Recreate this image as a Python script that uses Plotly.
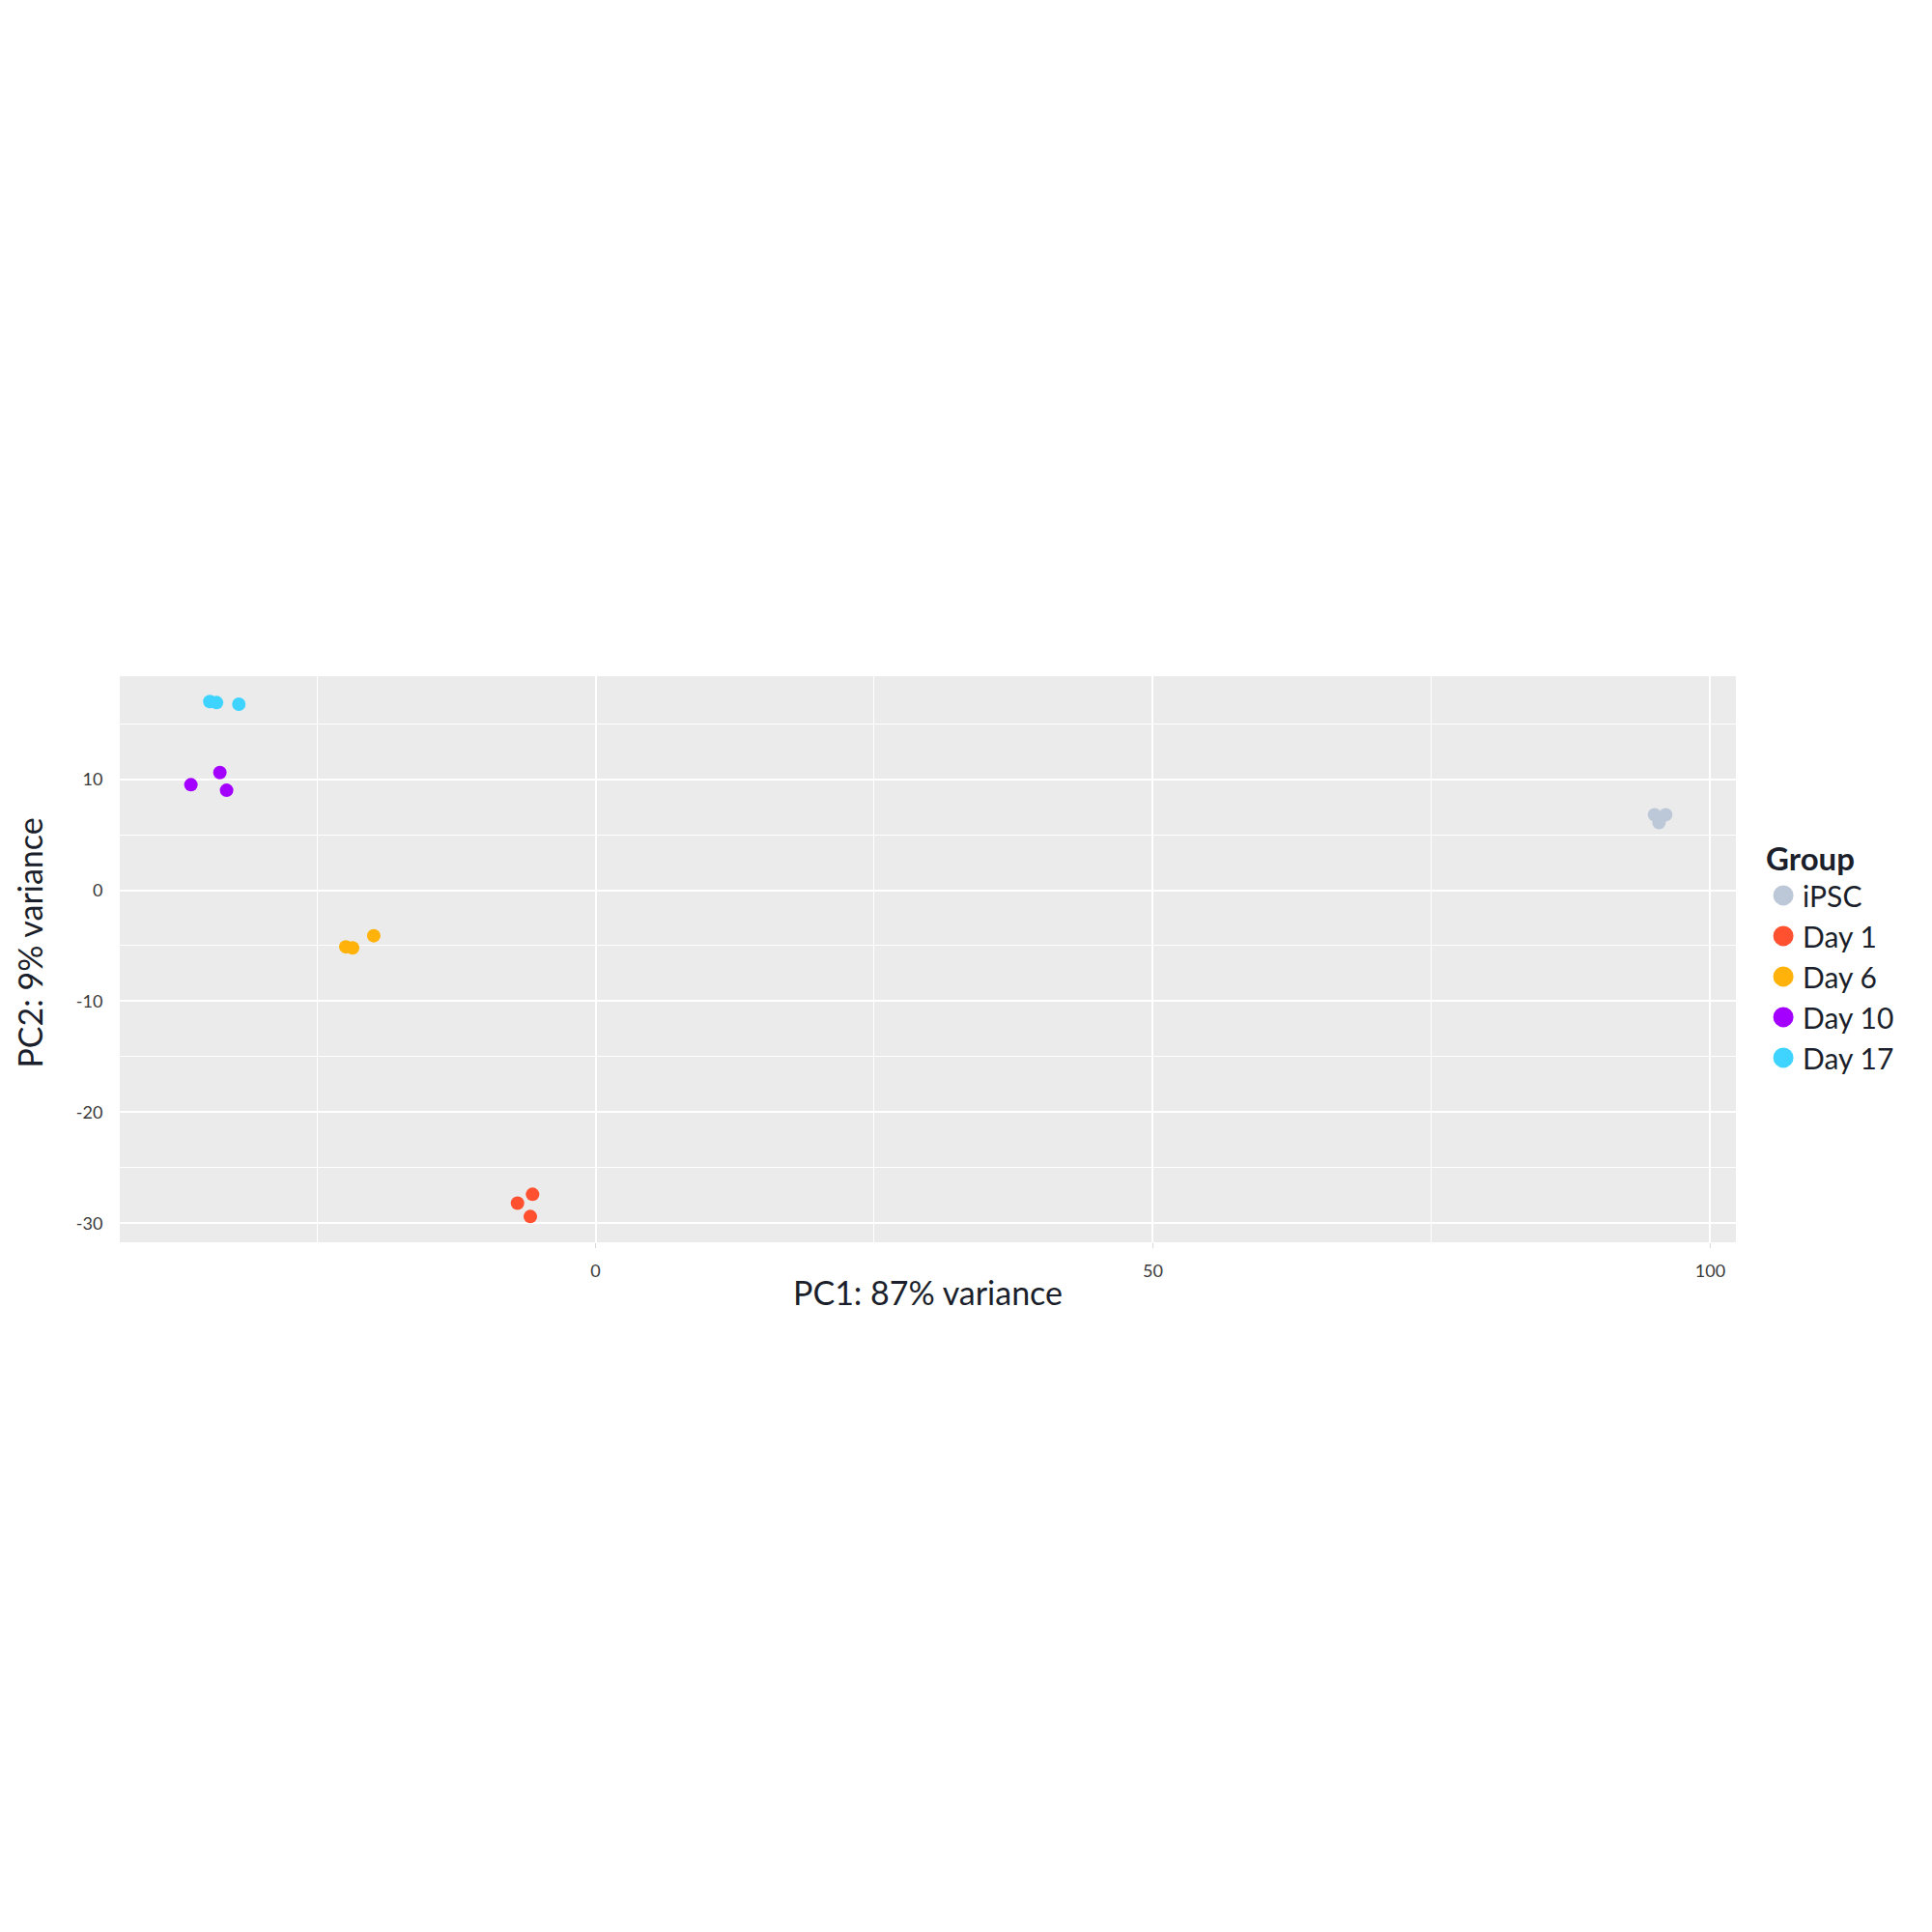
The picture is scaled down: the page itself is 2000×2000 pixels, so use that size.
import plotly.graph_objects as go

groups = ["iPSC", "Day 1", "Day 6", "Day 10", "Day 17"]
colors = ["#BCC7D7", "#FF512F", "#FFB20A", "#A300FF", "#3ED4FF"]

pc1_ipsc = [95.0, 96.0, 95.4]
pc2_ipsc = [6.8, 6.8, 6.1]
pc1_day1 = [-7.0, -5.65, -5.85]
pc2_day1 = [-28.2, -27.4, -29.4]
pc1_day6 = [-22.4, -21.8, -19.9]
pc2_day6 = [-5.1, -5.2, -4.1]
pc1_day10 = [-36.3, -33.7, -33.1]
pc2_day10 = [9.5, 10.6, 9.0]
pc1_day17 = [-34.6, -34.0, -32.0]
pc2_day17 = [17.0, 16.9, 16.75]

xs = [pc1_ipsc, pc1_day1, pc1_day6, pc1_day10, pc1_day17]
ys = [pc2_ipsc, pc2_day1, pc2_day6, pc2_day10, pc2_day17]

x_ticks = [0, 50, 100]
y_ticks = [-30, -20, -10, 0, 10]

x_title = "PC1: 87% variance"
y_title = "PC2: 9% variance"
legend_title = "Group"

FONT = "Lato"
TEXT = "#1B1F2B"

fig = go.Figure()
for g, c, x, y in zip(groups, colors, xs, ys):
    fig.add_trace(go.Scatter(
        x=x, y=y, mode="markers", name=g, showlegend=False, legendgroup=g,
        marker=dict(color=c, size=14, line=dict(width=0)),
    ))
# legend entries (larger key symbols, as in the reference)
for g, c in zip(groups, colors):
    fig.add_trace(go.Scatter(
        x=[None], y=[None], mode="markers", name=g, showlegend=True, legendgroup=g,
        marker=dict(color=c, size=16, line=dict(width=5, color=c)),
    ))

fig.update_layout(
    width=2000, height=2000,
    paper_bgcolor="white",
    plot_bgcolor="#EBEBEB",
    margin=dict(l=116, r=211, t=692, b=722),
    font=dict(family=FONT, color=TEXT),
    showlegend=True,
    legend=dict(
        title=dict(text="<b>" + legend_title + "</b>", font=dict(size=33, color=TEXT, family=FONT)),
        font=dict(size=30, color=TEXT, family=FONT),
        x=1.0174, xanchor="left", xref="paper",
        y=0.506, yanchor="middle",
        itemsizing="trace",
        tracegroupgap=0,
        bgcolor="rgba(0,0,0,0)",
        indentation=0,
        borderwidth=0,
    ),
    annotations=[dict(
        text=y_title, textangle=-90,
        xref="paper", yref="paper", x=0, y=0.528,
        xanchor="center", yanchor="middle", xshift=-93,
        showarrow=False,
        font=dict(size=34, color=TEXT, family=FONT),
    )],
)

fig.update_xaxes(
    range=[-42.68, 102.3],
    tickvals=x_ticks, ticktext=[str(v) for v in x_ticks],
    showgrid=True, gridcolor="white", gridwidth=2,
    minor=dict(tickvals=[-25, 25, 75], showgrid=True, gridcolor="white", gridwidth=1, ticks=""),
    zeroline=False, showline=False,
    ticks="outside", ticklen=5, tickcolor="#D8D8D8", tickwidth=1,
    tickfont=dict(size=18, color="#3A3A3A", family=FONT),
    ticklabelstandoff=8,
    title=dict(text=x_title, font=dict(size=34, color=TEXT, family=FONT), standoff=2),
    automargin=False,
)
fig.update_yaxes(
    range=[-31.72, 19.28],
    tickvals=y_ticks, ticktext=[str(v) for v in y_ticks],
    showgrid=True, gridcolor="white", gridwidth=2,
    minor=dict(tickvals=[-25, -15, -5, 5, 15], showgrid=True, gridcolor="white", gridwidth=1, ticks=""),
    zeroline=False, showline=False,
    ticks="outside", ticklen=5, tickcolor="rgba(0,0,0,0)", tickwidth=1,
    tickfont=dict(size=18, color="#3A3A3A", family=FONT),
    ticklabelstandoff=8,
    automargin=False,
)

fig.write_html("out.html")
